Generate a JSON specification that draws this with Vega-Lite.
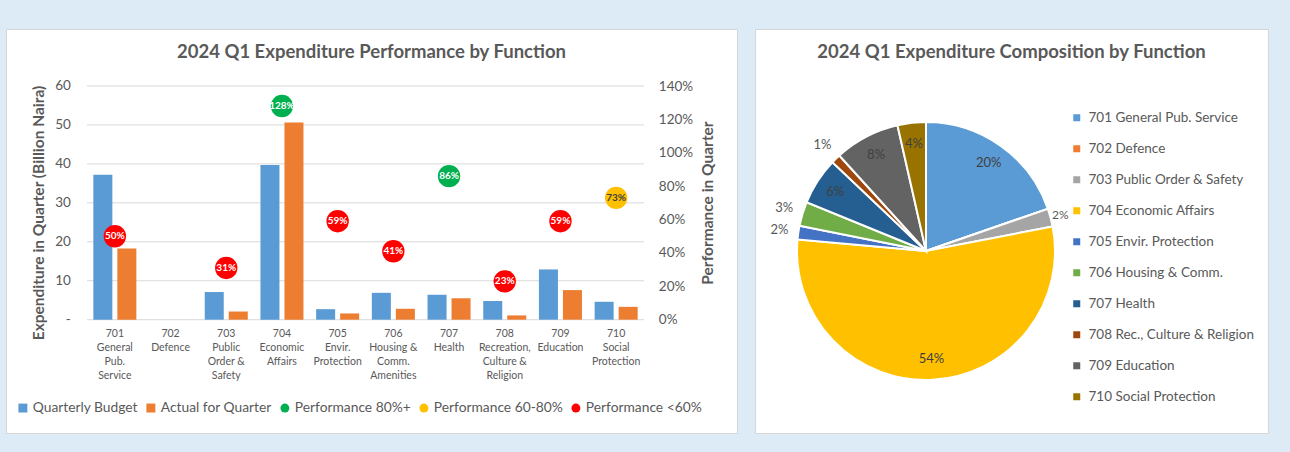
{
  "$schema": "https://vega.github.io/schema/vega-lite/v6.json",
  "background": "#DDEBF7",
  "padding": {"left": 5, "top": 28, "right": 25, "bottom": 20},
  "spacing": 16,
  "config": {
    "font": "Lato",
    "view": {"fill": "white", "stroke": "#D6D6D6", "strokeWidth": 1},
    "title": {"fontSize": 18.5, "fontWeight": "bold", "color": "#595959", "offset": -32, "anchor": "middle", "frame": "group", "font": "Lato"},
    "axis": {"labelColor": "#595959", "titleColor": "#595959", "labelFont": "Lato", "titleFont": "Lato"},
    "legend": {"labelColor": "#595959", "labelFont": "Lato"}
  },
  "resolve": {
    "scale": {"color": "independent", "shape": "independent"},
    "legend": {"color": "independent", "shape": "independent"}
  },
  "datasets": {
    "grid": [
      {"gv": 0, "from": "701|General|Pub.|Service", "to": "710|Social|Protection"},
      {"gv": 10, "from": "701|General|Pub.|Service", "to": "710|Social|Protection"},
      {"gv": 20, "from": "701|General|Pub.|Service", "to": "710|Social|Protection"},
      {"gv": 30, "from": "701|General|Pub.|Service", "to": "710|Social|Protection"},
      {"gv": 40, "from": "701|General|Pub.|Service", "to": "710|Social|Protection"},
      {"gv": 50, "from": "701|General|Pub.|Service", "to": "710|Social|Protection"},
      {"gv": 60, "from": "701|General|Pub.|Service", "to": "710|Social|Protection"}
    ],
    "bars": [
      {"cat": "701|General|Pub.|Service", "series": "Quarterly Budget", "value": 37.2},
      {"cat": "701|General|Pub.|Service", "series": "Actual for Quarter", "value": 18.3},
      {"cat": "702|Defence", "series": "Quarterly Budget", "value": 0},
      {"cat": "702|Defence", "series": "Actual for Quarter", "value": 0},
      {"cat": "703|Public|Order &|Safety", "series": "Quarterly Budget", "value": 7.1},
      {"cat": "703|Public|Order &|Safety", "series": "Actual for Quarter", "value": 2.1},
      {"cat": "704|Economic|Affairs", "series": "Quarterly Budget", "value": 39.7},
      {"cat": "704|Economic|Affairs", "series": "Actual for Quarter", "value": 50.6},
      {"cat": "705|Envir.|Protection", "series": "Quarterly Budget", "value": 2.7},
      {"cat": "705|Envir.|Protection", "series": "Actual for Quarter", "value": 1.6},
      {"cat": "706|Housing &|Comm.|Amenities", "series": "Quarterly Budget", "value": 6.9},
      {"cat": "706|Housing &|Comm.|Amenities", "series": "Actual for Quarter", "value": 2.8},
      {"cat": "707|Health", "series": "Quarterly Budget", "value": 6.4},
      {"cat": "707|Health", "series": "Actual for Quarter", "value": 5.5},
      {"cat": "708|Recreation,|Culture &|Religion", "series": "Quarterly Budget", "value": 4.8},
      {"cat": "708|Recreation,|Culture &|Religion", "series": "Actual for Quarter", "value": 1.1},
      {"cat": "709|Education", "series": "Quarterly Budget", "value": 12.9},
      {"cat": "709|Education", "series": "Actual for Quarter", "value": 7.6},
      {"cat": "710|Social|Protection", "series": "Quarterly Budget", "value": 4.6},
      {"cat": "710|Social|Protection", "series": "Actual for Quarter", "value": 3.3}
    ],
    "perf": [
      {"cat": "701|General|Pub.|Service", "perf": 0.50, "series": "Performance <60%"},
      {"cat": "703|Public|Order &|Safety", "perf": 0.31, "series": "Performance <60%"},
      {"cat": "704|Economic|Affairs", "perf": 1.28, "series": "Performance 80%+"},
      {"cat": "705|Envir.|Protection", "perf": 0.59, "series": "Performance <60%"},
      {"cat": "706|Housing &|Comm.|Amenities", "perf": 0.41, "series": "Performance <60%"},
      {"cat": "707|Health", "perf": 0.86, "series": "Performance 80%+"},
      {"cat": "708|Recreation,|Culture &|Religion", "perf": 0.23, "series": "Performance <60%"},
      {"cat": "709|Education", "perf": 0.59, "series": "Performance <60%"},
      {"cat": "710|Social|Protection", "perf": 0.73, "series": "Performance 60-80%"}
    ],
    "pie": [
      {"code": 701, "name": "701 General Pub. Service", "value": 18.3, "share": 0.20},
      {"code": 702, "name": "702 Defence", "value": 0, "share": 0},
      {"code": 703, "name": "703 Public Order & Safety", "value": 2.1, "share": 0.02},
      {"code": 704, "name": "704 Economic Affairs", "value": 50.6, "share": 0.54},
      {"code": 705, "name": "705 Envir. Protection", "value": 1.6, "share": 0.02},
      {"code": 706, "name": "706 Housing & Comm.", "value": 2.8, "share": 0.03},
      {"code": 707, "name": "707 Health", "value": 5.5, "share": 0.06},
      {"code": 708, "name": "708 Rec., Culture & Religion", "value": 1.1, "share": 0.01},
      {"code": 709, "name": "709 Education", "value": 7.6, "share": 0.08},
      {"code": 710, "name": "710 Social Protection", "value": 3.3, "share": 0.04}
    ]
  },
  "hconcat": [
    {
      "width": 731,
      "height": 404,
      "title": {"text": "2024 Q1 Expenditure Performance by Function"},
      "layer": [
        {
          "layer": [
            {
              "data": {"name": "grid"},
              "mark": {"type": "rule", "color": "#D9D9D9", "strokeWidth": 1},
              "encoding": {
                "x": {
                  "field": "from", "type": "nominal", "bandPosition": 0,
                  "scale": {
                    "domain": ["701|General|Pub.|Service", "702|Defence", "703|Public|Order &|Safety", "704|Economic|Affairs", "705|Envir.|Protection", "706|Housing &|Comm.|Amenities", "707|Health", "708|Recreation,|Culture &|Religion", "709|Education", "710|Social|Protection"],
                    "range": [81, 638], "paddingInner": 0, "paddingOuter": 0
                  },
                  "axis": {
                    "orient": "bottom", "offset": -113.3, "title": null, "domain": false, "ticks": false, "tickSize": 0, "grid": false,
                    "labelAngle": 0, "labelExpr": "split(datum.value, '|')", "labelFontSize": 10.5, "labelLineHeight": 14,
                    "labelPadding": 9, "labelOverlap": false, "labelColor": "#595959"
                  }
                },
                "x2": {"field": "to", "bandPosition": 1},
                "y": {
                  "field": "gv", "type": "quantitative",
                  "scale": {"domain": [-29.09, 74.63], "nice": false, "zero": false},
                  "axis": {
                    "orient": "left", "offset": -66.3, "values": [0, 10, 20, 30, 40, 50, 60],
                    "labelExpr": "datum.value === 0 ? '-' : datum.label",
                    "grid": false, "domain": false, "ticks": false, "tickSize": 0, "labelPadding": 2, "labelFontSize": 13.5,
                    "title": "Expenditure in Quarter (Billion Naira)", "titleFontSize": 15.5, "titleFontWeight": "bold",
                    "titlePadding": 8, "titleY": 183.5
                  }
                }
              }
            },
            {
              "data": {"name": "bars"},
              "mark": {"type": "bar"},
              "encoding": {
                "x": {"field": "cat", "type": "nominal"},
                "xOffset": {"field": "series", "type": "nominal", "scale": {"domain": ["Quarterly Budget", "Actual for Quarter"], "paddingInner": 0.208, "paddingOuter": 0.264}},
                "y": {"field": "value", "type": "quantitative"},
                "y2": {"datum": 0},
                "color": {
                  "field": "series", "type": "nominal",
                  "scale": {
                    "domain": ["Quarterly Budget", "Actual for Quarter", "Performance 80%+", "Performance 60-80%", "Performance <60%"],
                    "range": ["#5B9BD5", "#ED7D31", "#00B050", "#FFC000", "#FF0000"]
                  },
                  "legend": {"orient": "none", "legendX": 10, "legendY": 372, "direction": "horizontal", "columns": 5, "title": null, "symbolSize": 80, "labelFontSize": 13.8, "columnPadding": 6, "labelOffset": 3, "symbolStrokeWidth": 0}
                }
              }
            }
          ]
        },
        {
          "layer": [
            {
              "data": {"name": "perf"},
              "mark": {"type": "point", "filled": true, "opacity": 1, "size": 500},
              "encoding": {
                "x": {"field": "cat", "type": "nominal"},
                "y": {
                  "field": "perf", "type": "quantitative",
                  "scale": {"domain": [-0.6787, 1.7415], "nice": false, "zero": false},
                  "axis": {
                    "orient": "right", "offset": -80.7, "values": [0, 0.2, 0.4, 0.6, 0.8, 1.0, 1.2, 1.4], "format": ".0%",
                    "grid": false, "domain": false, "ticks": false, "tickSize": 0, "labelPadding": 2, "labelFontSize": 13.5,
                    "title": "Performance in Quarter", "titleFontSize": 15.5, "titleFontWeight": "bold",
                    "titlePadding": 23, "titleAngle": 270, "titleY": 173.5
                  }
                },
                "color": {
                  "field": "series", "type": "nominal",
                  "legend": {"orient": "none", "legendX": 10, "legendY": 372, "direction": "horizontal", "columns": 5, "title": null, "symbolSize": 80, "labelFontSize": 13.8, "columnPadding": 6, "labelOffset": 3, "symbolStrokeWidth": 0}
                },
                "shape": {
                  "field": "series", "type": "nominal",
                  "scale": {
                    "domain": ["Quarterly Budget", "Actual for Quarter", "Performance 80%+", "Performance 60-80%", "Performance <60%"],
                    "range": ["square", "square", "circle", "circle", "circle"]
                  },
                  "legend": {"orient": "none", "legendX": 10, "legendY": 372, "direction": "horizontal", "columns": 5, "title": null, "symbolSize": 80, "labelFontSize": 13.8, "columnPadding": 6, "labelOffset": 3, "symbolStrokeWidth": 0}
                }
              }
            },
            {
              "data": {"name": "perf"},
              "mark": {"type": "text", "fontWeight": "bold", "fontSize": 10, "baseline": "middle", "align": "center"},
              "encoding": {
                "x": {"field": "cat", "type": "nominal"},
                "y": {"field": "perf", "type": "quantitative"},
                "text": {"field": "perf", "type": "quantitative", "format": ".0%"},
                "color": {"condition": {"test": "datum.series === 'Performance 60-80%'", "value": "#404040"}, "value": "white"}
              }
            }
          ]
        }
      ],
      "resolve": {"scale": {"y": "independent"}}
    },
    {
      "width": 513,
      "height": 404,
      "view": {"fill": "white", "stroke": "#D6D6D6", "strokeWidth": 1},
      "title": {"text": "2024 Q1 Expenditure Composition by Function"},
      "data": {"name": "pie"},
      "encoding": {
        "theta": {"field": "value", "type": "quantitative", "stack": true},
        "order": {"field": "code", "type": "quantitative", "sort": "ascending"}
      },
      "layer": [
        {
          "mark": {"type": "arc", "outerRadius": 129, "x": 171, "y": 222, "stroke": "white", "strokeWidth": 2},
          "encoding": {
            "color": {
              "field": "name", "type": "nominal",
              "scale": {
                "domain": ["701 General Pub. Service", "702 Defence", "703 Public Order & Safety", "704 Economic Affairs", "705 Envir. Protection", "706 Housing & Comm.", "707 Health", "708 Rec., Culture & Religion", "709 Education", "710 Social Protection"],
                "range": ["#5B9BD5", "#ED7D31", "#A5A5A5", "#FFC000", "#4472C4", "#70AD47", "#255E91", "#9E480E", "#636363", "#997300"]
              },
              "legend": {"orient": "none", "legendX": 315, "legendY": 82, "title": null, "symbolType": "square", "symbolSize": 49, "labelFontSize": 13.5, "labelLimit": 260, "rowPadding": 16, "labelOffset": 5, "symbolStrokeWidth": 0}
            }
          }
        },
        {
          "mark": {"type": "text", "radius": 108, "x": 171, "y": 222, "fontSize": 13, "color": "#404040"},
          "encoding": {
            "text": {"field": "share", "type": "quantitative", "format": ".0%", "condition": {"test": "datum.share < 0.04", "value": ""}}
          }
        },
        {
          "mark": {"type": "text", "radius": 148, "x": 171, "y": 222, "fontSize": 13, "color": "#595959"},
          "encoding": {
            "text": {"field": "share", "type": "quantitative", "format": ".0%", "condition": {"test": "datum.share >= 0.04 || datum.share === 0 || datum.code === 703", "value": ""}}
          }
        },
        {
          "mark": {"type": "text", "radius": 139, "x": 171, "y": 222, "fontSize": 12, "color": "#595959"},
          "encoding": {
            "text": {"field": "share", "type": "quantitative", "format": ".0%", "condition": {"test": "datum.code !== 703", "value": ""}}
          }
        }
      ]
    }
  ]
}
